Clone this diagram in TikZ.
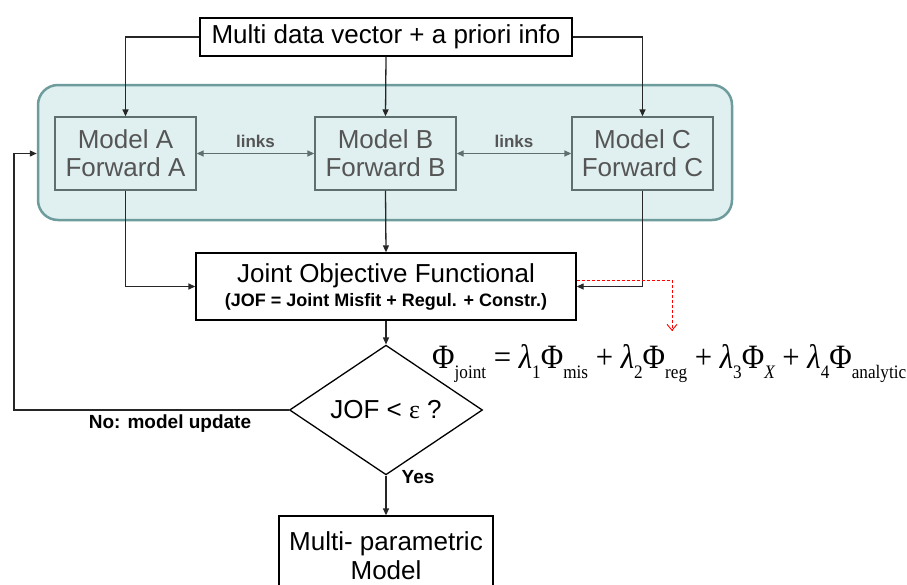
\documentclass[tikz,border=0pt]{standalone}
\usepackage{fontspec}
\setmainfont{Liberation Sans}
\newfontfamily\serf{Liberation Serif}
\usepackage{graphicx}
\usetikzlibrary{shapes.geometric,arrows.meta}
\definecolor{panelfill}{HTML}{E0F0F0}
\definecolor{panelline}{HTML}{6E9C9C}
\definecolor{modelline}{HTML}{5F6F6F}
\definecolor{gtext}{HTML}{555555}
\newcommand\sbx[1]{\raisebox{-0.3em}{\fontsize{19}{21}\selectfont #1}}
\begin{document}
\begin{tikzpicture}[x=1pt,y=-1pt,
  big/.style={font=\fontsize{26}{30}\selectfont},
  boxw/.style={draw=black,line width=1.3pt,fill=white,inner sep=0pt,align=center,big},
  modelbox/.style={draw=modelline,line width=1.3pt,fill=panelfill,minimum width=141pt,minimum height=73pt,inner sep=0pt,align=center,text=gtext,big},
  lbl/.style={font=\bfseries\fontsize{19}{21}\selectfont},
  arr/.style={line width=1.3pt,draw=black!85,-{Triangle[length=7pt,width=6pt]}},
  garr/.style={line width=1.3pt,draw=modelline,-{Triangle[length=7pt,width=6pt]}},
  darr/.style={line width=1.3pt,draw=modelline,{Triangle[length=7pt,width=6pt]}-{Triangle[length=7pt,width=6pt]}}]
\useasboundingbox (0,0) rectangle (907,584);
\clip (0,0) rectangle (907,584);
% panel
\node[draw=panelline,line width=2.5pt,fill=panelfill,rounded corners=20pt,minimum width=694pt,minimum height=135pt,inner sep=0pt] (panel) at (385,152.5) {};
% top box
\node[boxw,minimum width=372pt,minimum height=38pt] (top) at (386,37) {Multi data vector + a priori info};
% models
\node[modelbox] (A) at (125.5,153.5) {Model A\\[-2pt]Forward A};
\node[modelbox] (B) at (385.5,153.5) {Model B\\[-2pt]Forward B};
\node[modelbox] (C) at (642.5,153.5) {Model C\\[-2pt]Forward C};
% JOF
\node[boxw,minimum width=380pt,minimum height=67pt] (jof) at (386,286.5) {Joint Objective Functional\\[-6pt]{\bfseries\fontsize{18}{20}\selectfont (JOF = Joint Misfit + Regul. + Constr.)}};
% decision
\node[draw=black,line width=1.3pt,fill=white,shape=diamond,minimum width=193pt,minimum height=90pt,inner sep=0pt,big] (dec) at (386,410) {JOF < {\serf ε} ?};
% result
\node[boxw,minimum width=214pt,minimum height=80pt] (res) at (386,556) {Multi- parametric\\[-1pt]Model};
% formula
\node[anchor=base west,inner sep=0pt] (phi) at (432,368) {\resizebox{474pt}{24pt}{\serf\fontsize{34}{36}\selectfont Φ\sbx{joint} = {\itshape λ}\sbx{1}Φ\sbx{mis} + {\itshape λ}\sbx{2}Φ\sbx{reg} + {\itshape λ}\sbx{3}Φ\sbx{\itshape X} + {\itshape λ}\sbx{4}Φ\sbx{analytic}}};
% connectors
\draw[arr] (top.west) -| (A.north);
\draw[arr] (top.south) -- (B.north);
\draw[arr] (top.east) -| (C.north);
\draw[darr] (A.east) -- node[above=2pt,text=gtext,font=\bfseries\fontsize{17}{19}\selectfont] (l1) {links} (B.west);
\draw[darr] (B.east) -- node[above=2pt,text=gtext,font=\bfseries\fontsize{17}{19}\selectfont] (l2) {links} (C.west);
\draw[arr] (A.south) |- (jof.west);
\draw[arr] (B.south) -- (jof.north);
\draw[arr] (C.south) |- (jof.east);
\draw[arr] (jof.south) -- (dec.north);
\coordinate (fbx) at (14,410);
\draw[arr] (dec.west) -- (fbx) |- (panel.west |- A.center);
\node[lbl] (no) at (170,424) {No: model update};
\draw[arr] (dec.south) -- (res.north);
\node[lbl] (yes) at (418,477) {Yes};
\coordinate (redend) at (672,331);
\draw[red,line width=0.9pt,dash pattern=on 3pt off 2pt,-{Straight Barb[length=6pt,width=10pt]}] ([yshift=6.5pt]jof.east) -| (redend);
\end{tikzpicture}
\end{document}
